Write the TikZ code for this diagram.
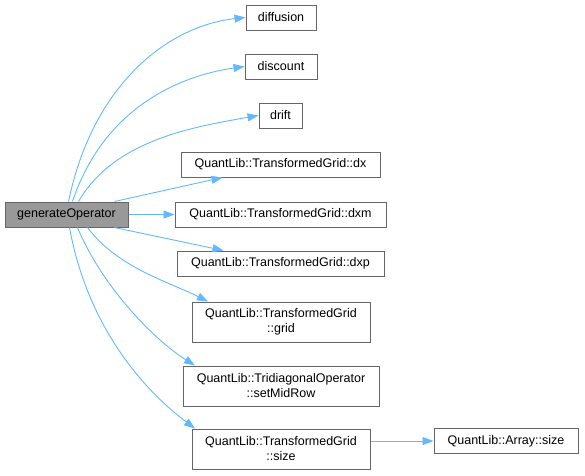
\documentclass[tikz,border=0pt]{standalone}
\usepackage{fontspec}
\setmainfont{Liberation Sans}
\usetikzlibrary{arrows.meta}
\definecolor{edgeblue}{HTML}{63B8FF}
\definecolor{boxgray}{HTML}{666666}
\definecolor{rootfill}{HTML}{999999}
\tikzset{
    fn/.style={draw=boxgray, fill=white, line width=1pt, align=center, inner sep=0pt,
        font=\fontsize{12.5}{15}\selectfont},
    call/.style={edgeblue, line width=0.9pt, -{Triangle[length=11pt,width=8pt]}},
}
\begin{document}
\begin{tikzpicture}[x=1pt,y=-1pt]
    \useasboundingbox (0,0) rectangle (585,475);
    % caller
    \node[fn, fill=rootfill, minimum width=123pt, minimum height=25pt] (gen) at (66.5,214.5) {generateOperator};
    % callees, shaded white
    \foreach \id/\x/\y/\w/\h/\txt in {
        diffusion/281/17.5/70/25/{diffusion},
        discount/281/66.5/72/25/{discount},
        drift/280.5/115.5/43/25/{drift},
        dx/280.5/164.5/199/25/{QuantLib::TransformedGrid::dx},
        dxm/280.5/214.5/211/25/{QuantLib::TransformedGrid::dxm},
        dxp/280.5/263.5/207/25/{QuantLib::TransformedGrid::dxp},
        grid/281/322/178/40/{QuantLib::TransformedGrid\\::grid},
        midrow/281/386/196/40/{QuantLib::TridiagonalOperator\\::setMidRow},
        size/281/449/178/40/{QuantLib::TransformedGrid\\::size},
        arrsize/506/441/144/25/{QuantLib::Array::size}} {
        \node[fn, minimum width=\w pt, minimum height=\h pt] (\id) at (\x,\y) {\txt};
    }
    % calls: upper fan
    \draw[call] ([xshift=2pt]gen.north) .. controls +(25,-120) and +(-75,8) .. (diffusion.west);
    \draw[call] ([xshift=6pt]gen.north) .. controls +(30,-90) and +(-70,10) .. (discount.west);
    \draw[call] ([xshift=12pt]gen.north) .. controls +(35,-60) and +(-70,12) .. (drift.west);
    \draw[call] ([xshift=48pt]gen.north) -- ([xshift=-58pt]dx.south);
    \draw[call] (gen.east) -- (dxm.west);
    % calls: lower fan
    \draw[call] ([xshift=48pt]gen.south) -- ([xshift=-57pt]dxp.north);
    \draw[call] ([xshift=21pt]gen.south) .. controls +(30,40) and +(-40,-20) .. ([xshift=-73pt]grid.north);
    \draw[call] ([xshift=11pt]gen.south) .. controls +(25,60) and +(-40,-25) .. ([xshift=-86pt]midrow.north);
    \draw[call] ([xshift=3pt]gen.south) .. controls +(20,110) and +(-40,-30) .. ([xshift=-86pt]size.north);
    \draw[call] (size.east |- arrsize.west) -- (arrsize.west);
\end{tikzpicture}
\end{document}
